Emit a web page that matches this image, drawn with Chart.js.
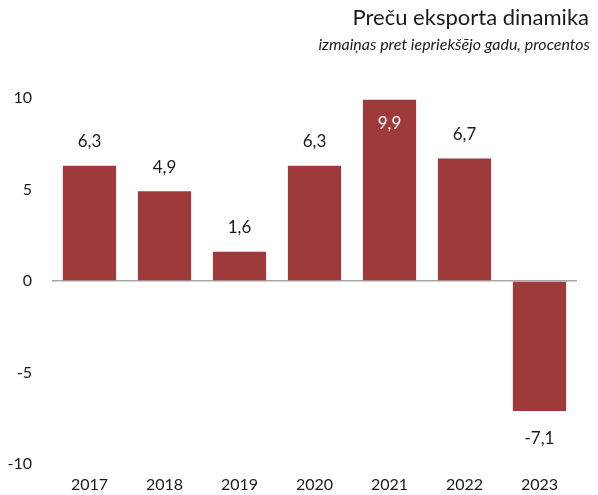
<!DOCTYPE html>
<html>
<head>
<meta charset="utf-8">
<script src="https://cdn.jsdelivr.net/npm/chart.js@4"></script>
<style>
    html, body { margin: 0; padding: 0; background: #fff; }
    #wrap { width: 598px; height: 495px; }
</style>
</head>
<body>
<div id="wrap"><canvas id="exportChart" width="598" height="495"></canvas></div>
<script>
const years = ['2017', '2018', '2019', '2020', '2021', '2022', '2023'];
const changes = [6.3, 4.9, 1.6, 6.3, 9.9, 6.7, -7.1];
const yTicks = [-10, -5, 0, 5, 10];

const titleText = 'Preču eksporta dinamika';
const subtitleText = 'izmaiņas pret iepriekšējo gadu, procentos';
const fontFamily = 'Lato, "Open Sans", sans-serif';

// draws title, subtitle and the value labels
const labelsPlugin = {
    id: 'labelsPlugin',
    afterDatasetsDraw(chart) {
        const ctx = chart.ctx;
        ctx.save();
        ctx.fillStyle = '#1a1a1a';
        ctx.textAlign = 'right';
        ctx.textBaseline = 'alphabetic';
        ctx.font = '22px ' + fontFamily;
        ctx.fillText(titleText, 589, 25);
        ctx.font = 'italic 16px ' + fontFamily;
        ctx.fillText(subtitleText, 590, 50);

        const meta = chart.getDatasetMeta(0);
        ctx.font = '17px ' + fontFamily;
        ctx.textAlign = 'center';
        ctx.textBaseline = 'middle';
        meta.data.forEach((bar, i) => {
            const v = changes[i];
            const txt = v.toFixed(1).replace('.', ',');
            let y;
            if (v >= 0) {
                y = bar.y - 24;
                if (y < chart.chartArea.top + 10) {
                    y = bar.y + 24;
                    ctx.fillStyle = '#ffffff';
                } else {
                    ctx.fillStyle = '#1a1a1a';
                }
            } else {
                y = bar.y + 28;
                ctx.fillStyle = '#1a1a1a';
            }
            ctx.fillText(txt, bar.x, y);
        });
        ctx.restore();
    }
};

const ctx = document.getElementById('exportChart').getContext('2d');
new Chart(ctx, {
    type: 'bar',
    data: {
        labels: years,
        datasets: [{
            data: changes,
            backgroundColor: '#9e3b3a',
            borderWidth: 0,
            barPercentage: 0.71,
            categoryPercentage: 1.0
        }]
    },
    options: {
        responsive: false,
        animation: false,
        layout: {
            padding: { top: 98, right: 21, bottom: 0, left: 0 }
        },
        plugins: {
            legend: { display: false },
            tooltip: { enabled: false }
        },
        scales: {
            x: {
                grid: { display: false },
                border: { display: false },
                afterFit: axis => {
                    axis.height = 31;
                },
                ticks: {
                    color: '#1a1a1a',
                    padding: 3,
                    font: { family: fontFamily, size: 16 }
                }
            },
            y: {
                min: -10,
                max: 10,
                afterBuildTicks: axis => {
                    axis.ticks = yTicks.map(v => ({ value: v }));
                },
                afterFit: axis => {
                    axis.width = 52;
                },
                border: { display: false },
                grid: {
                    drawTicks: false,
                    color: c => c.tick && c.tick.value === 0 ? '#a6a6a6' : 'rgba(0,0,0,0)',
                    lineWidth: 1.5
                },
                ticks: {
                    color: '#1a1a1a',
                    padding: 20,
                    font: { family: fontFamily, size: 16 }
                }
            }
        }
    },
    plugins: [labelsPlugin]
});
</script>
</body>
</html>
